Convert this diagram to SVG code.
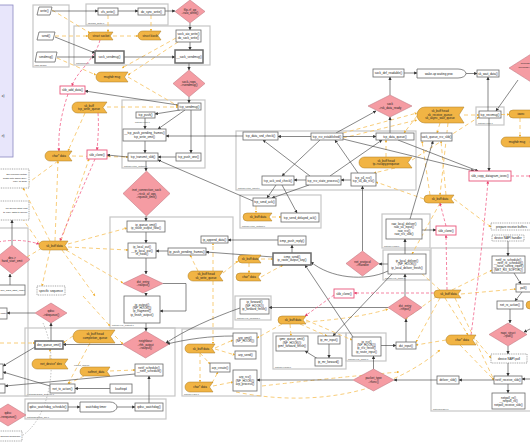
<svg xmlns="http://www.w3.org/2000/svg" width="530" height="442" viewBox="0 0 530 442">
<defs>
<style>
text{font-family:"Liberation Sans",Arial,sans-serif;font-size:3px;fill:#222;text-anchor:middle}
.gl{font-size:2.5px;text-anchor:start;fill:#444}
.sm{font-size:2.5px}
.b{fill:#fff;stroke:#6a6a6a;stroke-width:.8}
.bt{fill:#fff;stroke:#6a6a6a;stroke-width:1.5}
.pb{fill:#fff;stroke:#e8557a;stroke-width:.9}
.dt{fill:#fff;stroke:#666;stroke-width:.6;stroke-dasharray:1 .8}
.d{fill:#f59ca3;stroke:#b8707a;stroke-width:.5}
.t{fill:#f1b444;stroke:#a87a22;stroke-width:.5}
.g{fill:none;stroke:#c6c6c6;stroke-width:1.2}
.e{fill:none;stroke:#383838;stroke-width:.6;marker-end:url(#a)}
.y{fill:none;stroke:#f7c76c;stroke-width:.9;stroke-dasharray:4 3;marker-end:url(#ay)}
.p{fill:none;stroke:#f0507c;stroke-width:.7;stroke-dasharray:3 2;marker-end:url(#ap)}
.gd{fill:none;stroke:#888;stroke-width:.5;stroke-dasharray:1.5 1.5}
</style>
<marker id="a" viewBox="0 0 10 10" refX="9" refY="5" markerWidth="3.2" markerHeight="3.2" markerUnits="userSpaceOnUse" orient="auto"><path d="M0,0L10,5L0,10z" fill="#333"/></marker>
<marker id="ap" viewBox="0 0 10 10" refX="9" refY="5" markerWidth="3" markerHeight="3" markerUnits="userSpaceOnUse" orient="auto"><path d="M0,0L10,5L0,10z" fill="#e8406c"/></marker>
<marker id="ay" viewBox="0 0 10 10" refX="9" refY="5" markerWidth="2.6" markerHeight="2.6" markerUnits="userSpaceOnUse" orient="auto"><path d="M0,0L10,5L0,10z" fill="#f0b030"/></marker>
</defs>
<rect width="530" height="442" fill="#fff"/>

<g id="clusters">
<rect class="g" x="33" y="5" width="36" height="62"/><text class="gl" x="34.5" y="65.5">user space</text>
<rect class="g" x="86" y="4" width="82" height="21"/><text class="gl" x="88" y="23.6">fs/read_write.c</text>
<rect class="g" x="74" y="26" width="136" height="39"/><text class="gl" x="76" y="63.5">net/socket.c</text>
<rect class="g" x="122" y="100" width="83" height="68"/><text class="gl" x="124" y="166.5">net/ipv4/tcp_output.c</text><text class="gl" x="135" y="123">net/ipv4/tcp.c</text>
<rect class="g" x="110" y="217" width="123" height="111"/><text class="gl" x="112" y="326.3">net/ipv4/ip_output.c</text>
<rect class="g" x="236" y="131" width="180" height="59"/><text class="gl" x="238" y="188.5">net/ipv4/tcp_input.c</text>
<rect class="g" x="476" y="107" width="28" height="18"/><text class="gl" x="478" y="123.6">net/ipv4/tcp.c</text>
<rect class="g" x="240" y="195" width="81" height="33"/><text class="gl" x="242" y="226.5">net/ipv4/tcp_output.c</text>
<rect class="g" x="382" y="214" width="48" height="34"/><text class="gl" x="384" y="246.5">net/ipv4/raw.c</text>
<rect class="g" x="383" y="250" width="47" height="30"/><text class="gl" x="385" y="278.5">net/ipv4/ip_input.c</text>
<rect class="g" x="431" y="248" width="105" height="163"/><text class="gl" x="433" y="409.5">net/core/dev.c</text>
<rect class="g" x="235" y="296" width="36" height="24"/><text class="gl" x="237" y="318.8">net/ipv4/ip_forward.c</text>
<rect class="g" x="273" y="333" width="73" height="36"/><text class="gl" x="275" y="367.5">net/ipv4/ipmr.c</text>
<rect class="g" x="346" y="333" width="40" height="28"/><text class="gl" x="348" y="359.5">net/ipv4/ip_input.c</text>
<rect class="g" x="182" y="329" width="79" height="67"/><text class="gl" x="184" y="394.5">net/ipv4/arp.c</text>
<rect class="g" x="25" y="328" width="150" height="68"/><text class="gl" x="27" y="394.5">net/sched/sch_generic.c</text>
<rect class="g" x="25" y="399" width="141" height="20"/><text class="gl" x="27" y="417.5">net/sched/sch_api.c</text>
<rect class="g" x="-5" y="228" width="33" height="168"/>
</g>

<g id="connectors">
<g id="data-access">
<path class="y" d="M52,10L90,33"/><path class="y" d="M55,36H88"/><path class="y" d="M57,58L96,75"/><path class="y" d="M113,36H138"/>
<path class="y" d="M108,15V32"/><path class="y" d="M151,15V31"/><path class="y" d="M178,42L128,75"/><path class="y" d="M176,38L122,68"/>
<path class="y" d="M128,77L178,106"/><path class="y" d="M107,107H178"/><path class="y" d="M85,113L68,151"/>
<path class="y" d="M58,161L24,186"/><path class="y" d="M50,241L23,188"/><path class="y" d="M55,241L58,161"/><path class="y" d="M61,241L89,159"/>
<path class="y" d="M68,244L127,228"/><path class="y" d="M68,247L128,250"/><path class="y" d="M66,250L123,283"/><path class="y" d="M62,250L95,296"/>
<path class="y" d="M50,250L42,286"/><path class="y" d="M42,248L22,260"/><path class="y" d="M40,244L18,212"/><path class="y" d="M72,156L128,157"/>
<path class="y" d="M213,271V243"/><path class="y" d="M198,271L190,255"/><path class="y" d="M223,273L238,261"/><path class="y" d="M261,259H273"/>
<path class="y" d="M261,277L283,265"/><path class="y" d="M249,263V273"/><path class="y" d="M213,281V344"/><path class="y" d="M200,353V382"/>
<path class="y" d="M215,348L233,340"/><path class="y" d="M215,349L235,355"/><path class="y" d="M213,386L233,382"/><path class="y" d="M200,353L210,364"/><path class="y" d="M212,383L218,372"/>
<path class="y" d="M386,157V140"/><path class="y" d="M412,160L479,117"/><path class="y" d="M395,168L374,173"/><path class="y" d="M417,116L404,133"/>
<path class="y" d="M440,123L437,133"/><path class="y" d="M464,115H479"/><path class="y" d="M501,114.5H509"/><path class="y" d="M520,118V137"/>
<path class="y" d="M343,133L417,113"/><path class="y" d="M343,138L417,120"/><path class="y" d="M430,195L422,141"/><path class="y" d="M446,195L441,141"/>
<path class="y" d="M448,123L440,195"/><path class="y" d="M424,199L376,182"/><path class="y" d="M440,203L412,254"/><path class="y" d="M454,199L491,227"/>
<path class="y" d="M440,290L420,272"/><path class="y" d="M452,290L492,270"/><path class="y" d="M461,294L516,289"/><path class="y" d="M455,298L494,380"/>
<path class="y" d="M445,298L468,335"/><path class="y" d="M440,298L416,342"/><path class="y" d="M437,296L405,319"/>
<path class="y" d="M290,324L291,336"/><path class="y" d="M300,324L327,336"/><path class="y" d="M306,320L352,340"/><path class="y" d="M282,324L257,338"/>
<path class="y" d="M446,340L416,345"/><path class="y" d="M460,345L494,380"/><path class="y" d="M476,340L491,358"/>
<path class="y" d="M73,336L63,343"/><path class="y" d="M90,343L68,384"/><path class="y" d="M84,376L68,384"/><path class="y" d="M110,371L135,370"/>
<path class="y" d="M50,359V349"/><path class="y" d="M115,336L123,344"/><path class="y" d="M0,343H35"/><path class="y" d="M83,296L110,326"/>
<path class="y" d="M256,206V213"/><path class="y" d="M272,217H281"/>
<path class="y" d="M236,392C300,405 380,400 440,350"/><path class="y" d="M262,386Q330,378 399,372"/><path class="y" d="M306,322Q360,318 388,309"/>
</g>
<g id="calls">
<path class="e" d="M52,11H98"/><path class="e" d="M118,11H138"/><path class="e" d="M165,11H175"/><path class="e" d="M190,23V30"/>
<path class="e" d="M190,42V50"/><path class="e" d="M57,57H95"/><path class="e" d="M55,37L95,53"/><path class="e" d="M124,57H175"/>
<path class="e" d="M189,63V70"/><path class="e" d="M189,97V103"/><path class="e" d="M178,105L85,91"/><path class="e" d="M180,110L155,114"/>
<path class="e" d="M145,118V129"/><path class="e" d="M185,110L158,129"/><path class="e" d="M191,110V153"/><path class="e" d="M243,136H166"/>
<path class="e" d="M145,141V153"/><path class="e" d="M176,157H158"/><path class="e" d="M128,157L107,155"/><path class="e" d="M146,161V171"/>
<path class="e" d="M146,216V221"/><path class="e" d="M146,232V243"/><path class="e" d="M168,251H156"/><path class="e" d="M278,240H228"/>
<path class="e" d="M273,257L206,252"/><path class="e" d="M292,253V245"/><path class="e" d="M146,258V274"/><path class="e" d="M146,293V296"/>
<path class="e" d="M163,283.5H186V311H160"/><path class="e" d="M146,323V331"/><path class="e" d="M240,308C212,318 185,330 166,343"/>
<path class="e" d="M233,336C210,336 188,339 167,344"/><path class="e" d="M122.5,344.5H63"/><path class="e" d="M51,341V323"/><path class="e" d="M35,313H7"/>
<path class="e" d="M149,403V376"/><path class="e" d="M68,407H80"/><path class="e" d="M117,407H135"/><path class="e" d="M110,388.5H75"/>
<path class="e" d="M50,386L3,372"/><path class="e" d="M35,347L3,366"/><path class="e" d="M135,374L5,386"/><path class="e" d="M10,285V274"/>
<path class="e" d="M12,245V220"/><path class="e" d="M353,380H257"/><path class="e" d="M373.5,369V356"/><path class="e" d="M381,345.5H396"/>
<path class="e" d="M406,342V319"/><path class="e" d="M388,307.5H269"/><path class="e" d="M405,296V274"/><path class="e" d="M388,264H379"/>
<path class="e" d="M405,254V239"/><path class="e" d="M422,230H436"/><path class="e" d="M410,219L433,141"/><path class="e" d="M362.5,251V186"/>
<path class="e" d="M351,180H341"/><path class="e" d="M306,180H294"/><path class="e" d="M388,271C365,282 330,278 311,262"/><path class="e" d="M353,337L305,265"/>
<path class="e" d="M392,274L333,336"/><path class="e" d="M318,359L305,351"/><path class="e" d="M329,344V358"/><path class="e" d="M311,136.5H278"/>
<path class="e" d="M343,136.5H376"/><path class="e" d="M390,133V117"/><path class="e" d="M336,133L376,111"/><path class="e" d="M390,95V77"/>
<path class="e" d="M404,73H417"/><path class="e" d="M466,73.5H477"/><path class="e" d="M488,111V77"/><path class="e" d="M518,80L496,111"/>
<path class="e" d="M489,118V171"/><path class="e" d="M343,139L474,171"/><path class="e" d="M398,140L478,171"/><path class="e" d="M358,173L335,140"/>
<path class="e" d="M330,176L382,140"/><path class="e" d="M310,176L263,140"/><path class="e" d="M320,140L282,176"/><path class="e" d="M276,185L267,198"/>
<path class="e" d="M282,185L297,213"/><path class="e" d="M309,185L272,198"/><path class="e" d="M253,201L158,160"/><path class="e" d="M437,380H394"/>
<path class="e" d="M494,380H459"/><path class="e" d="M510,309V323"/><path class="e" d="M508,346V354"/><path class="e" d="M508,363V376"/>
<path class="e" d="M508,384V393"/><path class="e" d="M508,241V256"/><path class="e" d="M514,273L521,284"/><path class="e" d="M522,292L515,301"/>
<path class="e" d="M532,379H522"/><path class="e" d="M532,328L524,332"/>
</g>
<g id="buffer-ops">
<path class="p" d="M100,40C95,60 76,72 72,86"/><path class="p" d="M68,94C61,115 58,132 59,151"/><path class="p" d="M98,113C99,127 98,138 97,150"/>
<path class="p" d="M95,159C82,190 68,220 60,241"/><path class="p" d="M-2,242Q20,238 39,244"/><path class="p" d="M334,295L305,316"/>
<path class="p" d="M447,290L446,235"/><path class="p" d="M446,226L440,203"/><path class="p" d="M471,335C477,290 484,230 488,181"/>
<path class="p" d="M511,176H532"/><path class="p" d="M434,293H354"/>
</g>
<path class="gd" d="M43,323C60,360 50,420 20,437"/>
</g>

<g id="legend"><rect x="-6" y="5" width="19" height="152" fill="#e8e6fb" stroke="#8a88c0" stroke-width=".8"/><text x="4.5" y="97" style="text-anchor:end">o)</text><text x="4.5" y="137" style="text-anchor:end">rt)</text></g>

<g id="n-write"><polygon class="b" points="39,7 52,7 50,15 37,15"/><text x="44.5" y="12">write()</text></g>
<g id="n-send"><polygon class="b" points="39,32 55,32 53,40 37,40"/><text x="46" y="37">send()</text></g>
<g id="n-sendmsg"><polygon class="b" points="37,52 57,52 55,62 35,62"/><text x="46" y="58">sendmsg()</text></g>
<g id="n-vfs-write"><rect class="b" x="98" y="8" width="20" height="7"/><text x="108" y="12.5">vfs_write()</text></g>
<g id="n-do-sync-write"><rect class="b" x="138" y="8" width="27" height="7"/><text x="151.5" y="12.5">do_sync_write()</text></g>
<g id="n-aio-write"><polygon class="d" points="190,0 205,11.5 190,23 175,11.5"/><text x="190" y="10.8">filp-&gt;f_op</text><text x="190" y="14.2">-&gt;aio_write()</text></g>
<g id="n-struct-socket"><path class="t" d="M92,32H113L110.2,36L113,40H92A4,4 0 0 1 92,32Z"/><text x="101" y="37">struct socket</text></g>
<g id="n-kiocb"><path class="t" d="M142.5,31H161L158,35.5L161,40H142.5A4.5,4.5 0 0 1 142.5,31Z"/><text x="150" y="36.6">struct kiocb</text></g>
<g id="n-sock-aio-write"><rect class="b" x="176" y="30" width="25" height="12"/><text x="188.5" y="35.1">sock_aio_write()</text><text x="188.5" y="38.5">do_sock_write()</text></g>
<g id="n-sock-sendmsg"><rect class="bt" x="95" y="51" width="29" height="12"/><text x="109.5" y="58">sock_sendmsg()</text></g>
<g id="n-__sock-sendmsg"><rect class="bt" x="175" y="50" width="28" height="13"/><text x="189" y="57.5">__sock_sendmsg()</text></g>
<g id="n-ops-sendmsg"><polygon class="d" points="189,70 205,83.5 189,97 173,83.5"/><text x="189" y="82.9">sock-&gt;ops</text><text x="189" y="86.3">-&gt;sendmsg()</text></g>
<g id="n-msghdr"><path class="t" d="M101,72H128L124.5,77L128,82H101A5,5 0 0 1 101,72Z"/><text x="112" y="78">msghdr msg</text></g>
<g id="n-skb-add-data"><rect class="pb" x="60" y="86" width="25" height="8"/><text x="72.5" y="91">skb_add_data()</text></g>
<g id="n-write-queue"><path class="t" d="M77.5,102H107L103,107.5L107,113H77.5A5.5,5.5 0 0 1 77.5,102Z"/><text x="89" y="106.9">sk_buff</text><text x="89" y="110.3">tcp_write_queue</text></g>
<g id="n-tcp-sendmsg"><rect class="b" x="178" y="103" width="23" height="7"/><text x="189.5" y="107.5">tcp_sendmsg()</text></g>
<g id="n-tcp-push"><rect class="b" x="136" y="112" width="19" height="6"/><text x="145.5" y="116">tcp_push()</text></g>
<g id="n-push-pending"><rect class="b" x="123" y="129" width="43" height="12"/><text x="144.5" y="134.1">__tcp_push_pending_frames()</text><text x="144.5" y="137.5">tcp_write_xmit()</text></g>
<g id="n-tcp-transmit-skb"><rect class="b" x="128" y="153" width="30" height="8"/><text x="143" y="158">tcp_transmit_skb()</text></g>
<g id="n-tcp-push-one"><rect class="b" x="176" y="153" width="25" height="8"/><text x="188.5" y="158">tcp_push_one()</text></g>
<g id="n-queue-xmit"><polygon class="d" points="146.5,171 170,193.5 146.5,216 123,193.5"/><text x="146.5" y="191.2">inet_connection_sock</text><text x="146.5" y="194.6">-&gt;icsk_af_ops</text><text x="146.5" y="198">-&gt;queue_xmit()</text></g>
<g id="n-ip-queue-xmit"><rect class="b" x="127" y="221" width="38" height="11"/><text x="146" y="225.9">ip_queue_xmit()</text><text x="146" y="229.3">ip_route_output_flow()</text></g>
<g id="n-ip-local-out"><rect class="b" x="128" y="243" width="28" height="15"/><text x="142" y="248.2">ip_local_out()</text><text x="142" y="251.6">__ip_local_out()</text><text x="142" y="255">nf_hook()</text></g>
<g id="n-ip-push-pending"><rect class="b" x="168" y="248" width="38" height="7"/><text x="187" y="252.5">ip_push_pending_frames()</text></g>
<g id="n-ip-append-data"><rect class="b" x="201" y="236" width="27" height="7"/><text x="214.5" y="240.5">ip_append_data()</text></g>
<g id="n-sk-write-queue"><path class="t" d="M193,271H223L219.5,276L223,281H193A5,5 0 0 1 193,271Z"/><text x="206" y="275.4">sk_buff head</text><text x="206" y="278.8">sk_write_queue</text></g>
<g id="n-dst-output"><polygon class="d" points="143,274 163,283.5 143,293 123,283.5"/><text x="143" y="282.9">dst_entry</text><text x="143" y="286.3">-&gt;output()</text></g>
<g id="n-ip-output"><rect class="b" x="124" y="296" width="36" height="27"/><text x="142" y="305.5">ip_output()</text><text x="142" y="308.9">(NF_HOOK())</text><text x="142" y="312.3">ip_fragment()</text><text x="142" y="315.7">ip_finish_output()</text></g>
<g id="n-neighbour"><polygon class="d" points="145.5,331 168.5,344.5 145.5,358 122.5,344.5"/><text x="145.5" y="342.2">neighbour</text><text x="145.5" y="345.6">-&gt;hh_output</text><text x="145.5" y="349">-&gt;output()</text></g>
<g id="n-tcp-data-snd-check"><rect class="b" x="243" y="132" width="35" height="8"/><text x="260.5" y="137">tcp_data_snd_check()</text></g>
<g id="n-tcp-rcv-established"><rect class="b" x="311" y="133" width="32" height="7"/><text x="327" y="137.5">tcp_rcv_established()</text></g>
<g id="n-tcp-data-queue"><rect class="b" x="376" y="133" width="38" height="7"/><text x="395" y="137.5">tcp_data_queue()</text></g>
<g id="n-sock-queue-rcv-skb"><rect class="b" x="421" y="133" width="31" height="8"/><text x="436.5" y="138">sock_queue_rcv_skb()</text></g>
<g id="n-sock-def-readable"><rect class="b" x="373" y="69" width="31" height="8"/><text x="388.5" y="74">sock_def_readable()</text></g>
<g id="n-data-ready"><polygon class="d" points="390,95 412,106 390,117 368,106"/><text x="390" y="105.4">sock</text><text x="390" y="108.8">-&gt;sk_data_ready</text></g>
<g id="n-wakeup"><path class="b" d="M417,69H458A8,4.5 0 0 1 458,78H417Z"/><text x="439" y="74.5">wake-up waiting proc</text></g>
<g id="n-sk-wait-data"><rect class="b" x="477" y="70" width="22" height="7"/><text x="488" y="74.5">sk_wait_data()</text></g>
<g id="n-prequeue-diamond"><polygon class="d" points="531,54 553,68 531,82 509,68"/><text class="sm" x="529.5" y="64" style="text-anchor:end">process</text><text class="sm" x="529.5" y="67.6" style="text-anchor:end">recvmsg()</text></g>
<g id="n-receive-queue"><path class="t" d="M425,107H464L459,115L464,123H425A8,8 0 0 1 425,107Z"/><text x="440" y="112.2">sk_buff head</text><text x="440" y="115.6">sk_receive_queue</text><text x="440" y="119">sk_async_wait_queue</text></g>
<g id="n-tcp-recvmsg"><rect class="b" x="479" y="111" width="22" height="7"/><text x="490" y="115.5">tcp_recvmsg()</text></g>
<g id="n-iovec"><path class="t" d="M513,110H534L531,114L534,118H513A4,4 0 0 1 513,110Z"/><text x="521" y="115">iovec</text></g>
<g id="n-msghdr2"><path class="t" d="M506,137H533L529.5,142L533,147H506A5,5 0 0 1 506,137Z"/><text x="517" y="143">msghdr msg</text></g>
<g id="n-prequeue"><path class="t" d="M364.5,157H412L408,162.5L412,168H364.5A5.5,5.5 0 0 1 364.5,157Z"/><text x="386" y="161.9">sk_buff head</text><text x="386" y="165.3">tp-&gt;ucopy.prequeue</text></g>
<g id="n-tcp-ack-snd-check"><rect class="b" x="262" y="176" width="32" height="9"/><text x="278" y="181.5">tcp_ack_snd_check()</text></g>
<g id="n-tcp-rcv-state"><rect class="b" x="306" y="176" width="35" height="9"/><text x="323.5" y="181.5">tcp_rcv_state_process()</text></g>
<g id="n-tcp-v4-rcv"><rect class="b" x="351" y="173" width="25" height="13"/><text x="363.5" y="178.9">tcp_v4_rcv()</text><text x="363.5" y="182.3">tcp_v4_do_rcv()</text></g>
<g id="n-tcp-send-ack"><rect class="b" x="253" y="198" width="23" height="8"/><text x="264.5" y="203">tcp_send_ack()</text></g>
<g id="n-skb-data-ack"><path class="t" d="M247,213H272L269,217L272,221H247A4,4 0 0 1 247,213Z"/><text x="258" y="218">sk_buff data</text></g>
<g id="n-tcp-send-delayed-ack"><rect class="b" x="281" y="213" width="38" height="9"/><text x="300" y="218.5">tcp_send_delayed_ack()</text></g>
<g id="n-skb-copy-datagram"><rect class="pb" x="469" y="171" width="42" height="10"/><text x="490" y="177">skb_copy_datagram_iovec()</text></g>
<g id="n-skb-data-rx"><path class="t" d="M428,195H454L451,199L454,203H428A4,4 0 0 1 428,195Z"/><text x="440" y="200">sk_buff data</text></g>
<g id="n-icmp-push-reply"><rect class="b" x="278" y="236" width="28" height="9"/><text x="292" y="241.5">icmp_push_reply()</text></g>
<g id="n-icmp-send"><rect class="bt" x="273" y="253" width="38" height="12"/><text x="292" y="257.9">icmp_send()</text><text x="292" y="261.3">ip_route_output_key()</text></g>
<g id="n-skb-data-icmp"><path class="t" d="M242,255H261L258,259L261,263H242A4,4 0 0 1 242,255Z"/><text x="250" y="260">sk_buff data</text></g>
<g id="n-char-data-icmp"><path class="t" d="M240,273H261L258,277L261,281H240A4,4 0 0 1 240,273Z"/><text x="249" y="278">char* data</text></g>
<g id="n-net-protocol"><polygon class="d" points="362.5,251 379,263.5 362.5,276 346,263.5"/><text x="362.5" y="262.9">net_protocol</text><text x="362.5" y="266.3">-&gt;handler</text></g>
<g id="n-raw"><rect class="b" x="386" y="219" width="36" height="20"/><text x="404" y="225">raw_local_deliver()</text><text x="404" y="228.4">raw_v4_input()</text><text x="404" y="231.8">raw_rcv()</text><text x="404" y="235.2">raw_rcv_skb()</text></g>
<g id="n-skb-clone-raw"><rect class="pb" x="436" y="226" width="20" height="9"/><text x="446" y="231.5">skb_clone()</text></g>
<g id="n-ip-local-deliver"><rect class="b" x="388" y="254" width="38" height="20"/><text x="407" y="261.7">ip_local_deliver()</text><text x="407" y="265.1">(NF_HOOK())</text><text x="407" y="268.5">ip_local_deliver_finish()</text></g>
<g id="n-prepare-buffers"><rect class="dt" x="491" y="223" width="41" height="7"/><text x="511.5" y="227.5">prepare receive buffers</text></g>
<g id="n-napi-handler"><rect class="dt" x="492" y="235" width="32" height="6"/><text x="508" y="239">device NAPI handler</text></g>
<g id="n-netif-rx-schedule"><rect class="b" x="492" y="256" width="33" height="17"/><text x="508.5" y="260.5">netif_rx_schedule()</text><text x="508.5" y="263.9">__netif_rx_schedule()</text><text x="508.5" y="267.3">__raise_softirq_irqoff()</text><text x="508.5" y="270.7">(NET_RX_SOFTIRQ)</text></g>
<g id="n-poll"><rect class="b" x="516" y="284" width="16" height="8"/><text x="523.5" y="289">poll()</text></g>
<g id="n-skb-clone-fwd"><rect class="pb" x="334" y="289" width="20" height="9"/><text x="344" y="294.5">skb_clone()</text></g>
<g id="n-skb-data-dev"><path class="t" d="M438,290H461L458,294L461,298H438A4,4 0 0 1 438,290Z"/><text x="448.5" y="295">sk_buff data</text></g>
<g id="n-net-rx-action"><rect class="b" x="497" y="301" width="26" height="8"/><text x="510" y="306">net_rx_action()</text></g>
<g id="n-skb-data-edge"><path class="t" d="M530,301H554L551,305L554,309H530A4,4 0 0 1 530,301Z"/></g>
<g id="n-skb-data-fwd"><path class="t" d="M282,316H306L303,320L306,324H282A4,4 0 0 1 282,316Z"/><text x="293" y="321">sk_buff data</text></g>
<g id="n-dst-input"><polygon class="d" points="405,296 422,307.5 405,319 388,307.5"/><text x="405" y="306.9">dst_entry</text><text x="405" y="310.3">-&gt;input()</text></g>
<g id="n-ip-forward"><rect class="b" x="240" y="299" width="29" height="15"/><text x="254.5" y="303.2">ip_forward()</text><text x="254.5" y="306.6">(NF_HOOK())</text><text x="254.5" y="310">ip_forward_finish()</text></g>
<g id="n-ipmr-queue-xmit"><rect class="b" x="276" y="336" width="32" height="15"/><text x="292" y="340.2">ipmr_queue_xmit()</text><text x="292" y="343.6">(NF_HOOK())</text><text x="292" y="347">ipmr_forward_finish()</text></g>
<g id="n-ip-mr-input"><rect class="b" x="318" y="336" width="22" height="8"/><text x="329" y="341">ip_mr_input()</text></g>
<g id="n-ip-mr-forward"><rect class="b" x="315" y="358" width="27" height="8"/><text x="328.5" y="363">ip_mr_forward()</text></g>
<g id="n-ip-rcv"><rect class="b" x="352" y="337" width="29" height="19"/><text x="366.5" y="342.5">ip_rcv()</text><text x="366.5" y="345.9">(NF_HOOK())</text><text x="366.5" y="349.3">ip_rcv_finish()</text><text x="366.5" y="352.7">ip_route_input()</text></g>
<g id="n-dst-input-call"><rect class="b" x="396" y="342" width="20" height="7"/><text x="406" y="346.5">dst_input()</text></g>
<g id="n-packet-type"><polygon class="d" points="373.5,369 394,380 373.5,391 353,380"/><text x="373.5" y="379.4">packet_type</text><text x="373.5" y="382.8">-&gt;func()</text></g>
<g id="n-char-data-dev"><path class="t" d="M451,335H476L472.5,340L476,345H451A5,5 0 0 1 451,335Z"/><text x="462" y="341">char* data</text></g>
<g id="n-napi-poll"><polygon class="d" points="508,323 527,334.5 508,346 489,334.5"/><text x="508" y="333.9">napi_struct</text><text x="508" y="337.3">-&gt;poll()</text></g>
<g id="n-napi-poll-dev"><rect class="dt" x="491" y="354" width="36" height="9"/><text x="509" y="359.5">device NAPI poll</text></g>
<g id="n-netif-receive-skb"><rect class="b" x="494" y="376" width="28" height="8"/><text x="508" y="381">netif_receive_skb()</text></g>
<g id="n-deliver-skb"><rect class="b" x="437" y="376" width="22" height="8"/><text x="448" y="381">deliver_skb()</text></g>
<g id="n-netpoll"><rect class="b" x="492" y="393" width="33" height="16"/><text x="508.5" y="398.7">netpoll_rx()</text><text x="508.5" y="402.1">__netpoll_rx()</text><text x="508.5" y="405.5">netpoll_receive_skb()</text></g>
<g id="n-arp-xmit"><rect class="b" x="233" y="333" width="24" height="13"/><text x="245" y="338.9">arp_xmit()</text><text x="245" y="342.3">(NF_HOOK())</text></g>
<g id="n-arp-send"><rect class="b" x="235" y="351" width="21" height="8"/><text x="245.5" y="356">arp_send()</text></g>
<g id="n-arp-create"><rect class="b" x="210" y="363" width="20" height="9"/><text x="220" y="368.5">arp_create()</text></g>
<g id="n-arp-rcv"><rect class="b" x="233" y="370" width="24" height="21"/><text x="245" y="378.2">arp_rcv()</text><text x="245" y="381.6">(NF_HOOK())</text><text x="245" y="385">arp_process()</text></g>
<g id="n-skb-data-arp"><path class="t" d="M189.5,344H215L212,348.5L215,353H189.5A4.5,4.5 0 0 1 189.5,344Z"/><text x="201" y="349.5">sk_buff data</text></g>
<g id="n-char-data-arp"><path class="t" d="M190,382H213L209.5,387L213,392H190A5,5 0 0 1 190,382Z"/><text x="200" y="388">char* data</text></g>
<g id="n-dev-queue-xmit"><rect class="bt" x="35" y="341" width="28" height="8"/><text x="49" y="346">dev_queue_xmit()</text></g>
<g id="n-completion-queue"><path class="t" d="M79.5,330H115L110.5,336.5L115,343H79.5A6.5,6.5 0 0 1 79.5,330Z"/><text x="95" y="335.4">sk_buff head</text><text x="95" y="338.8">completion_queue</text></g>
<g id="n-net-device"><path class="t" d="M37,359H68L64.5,364L68,369H37A5,5 0 0 1 37,359Z"/><text x="51" y="365">net_device* dev</text></g>
<g id="n-softnet-data"><path class="t" d="M84.5,367H110L107,371.5L110,376H84.5A4.5,4.5 0 0 1 84.5,367Z"/><text x="96" y="372.5">softnet_data</text><text class="gl" x="74" y="365.5">output_queue</text></g>
<g id="n-net-tx-action"><rect class="b" x="50" y="384" width="25" height="9"/><text x="62.5" y="389.5">net_tx_action()</text></g>
<g id="n-ksoftirqd"><rect class="b" x="110" y="384" width="22" height="9"/><text x="121" y="389.5">ksoftirqd</text></g>
<g id="n-netif-schedule"><rect class="b" x="135" y="364" width="28" height="12"/><text x="149" y="368.9">netif_schedule()</text><text x="149" y="372.3">__netif_schedule()</text></g>
<g id="n-watchdog-schedule"><rect class="b" x="28" y="403" width="40" height="8"/><text x="48" y="408">qdisc_watchdog_schedule()</text></g>
<g id="n-watchdog-timer"><path class="b" d="M80,402H110A7,5 0 0 1 110,412H80Z"/><text x="96" y="408">watchdog timer</text></g>
<g id="n-qdisc-watchdog"><rect class="b" x="135" y="403" width="28" height="8"/><text x="149" y="408">qdisc_watchdog()</text></g>
<g id="n-qdisc-dequeue"><polygon class="d" points="51,303 67,313 51,323 35,313"/><text x="51" y="312.4">qdisc</text><text x="51" y="315.8">-&gt;dequeue()</text></g>
<g id="n-qdisc-restart"><rect class="b" x="-10" y="308" width="17" height="11"/><text class="sm" x="0.4" y="314.4" style="text-anchor:start">xmit()</text></g>
<g id="n-qdisc-run"><rect class="b" x="-10" y="364" width="13" height="15"/></g>
<g id="n-raise-softirq"><rect class="b" x="-10" y="384" width="15" height="9"/></g>
<g id="n-qdisc-enqueue"><polygon class="d" points="8,404 26,415 8,426 -10,415"/><text x="8" y="414.4">qdisc</text><text x="8" y="417.8">-&gt;enqueue()</text></g>
<g id="n-seq-bottom"><rect class="dt" x="-6" y="431" width="28" height="10"/><text class="sm" x="0.6" y="437" style="text-anchor:start">specific sequence</text></g>
<g id="n-pooling"><rect class="dt" x="-6" y="169" width="35" height="19"/><text class="sm" x="27" y="175.2" style="text-anchor:end">the pooling routine</text><text class="sm" x="27" y="178.6" style="text-anchor:end">waits until when DMA</text><text class="sm" x="27" y="182" style="text-anchor:end">copy is done</text></g>
<g id="n-start-xmit-note"><rect class="dt" x="-6" y="201" width="35" height="19"/><text class="sm" x="27.5" y="208.7" style="text-anchor:end">for device start xmit</text><text class="sm" x="27.5" y="212.5" style="text-anchor:end">to copy data to device</text></g>
<g id="n-specific-seq"><rect class="dt" x="37" y="286" width="28" height="9"/><text x="51" y="291.5">specific sequence</text></g>
<g id="n-hard-start-xmit"><rect class="b" x="-6" y="285" width="31" height="10"/><text class="sm" x="0.6" y="291" style="text-anchor:start">dev_hard_start_xmit()</text></g>
<g id="n-dev-diamond"><polygon class="d" points="12,245 30,259.5 12,274 -6,259.5"/><text x="12" y="258.9">dev-&gt;</text><text x="12" y="262.3">hard_start_xmit</text></g>
<g id="n-char-data-tx"><path class="t" d="M50,151H72L68.5,156L72,161H50A5,5 0 0 1 50,151Z"/><text x="59" y="157">char* data</text></g>
<g id="n-skb-clone-tx"><rect class="pb" x="87" y="150" width="20" height="9"/><text x="97" y="155.5">skb_clone()</text></g>
<g id="n-skb-data-tx"><path class="t" d="M43.5,241H68L65,245.5L68,250H43.5A4.5,4.5 0 0 1 43.5,241Z"/><text x="54.5" y="246.5">sk_buff data</text></g>
</svg>
